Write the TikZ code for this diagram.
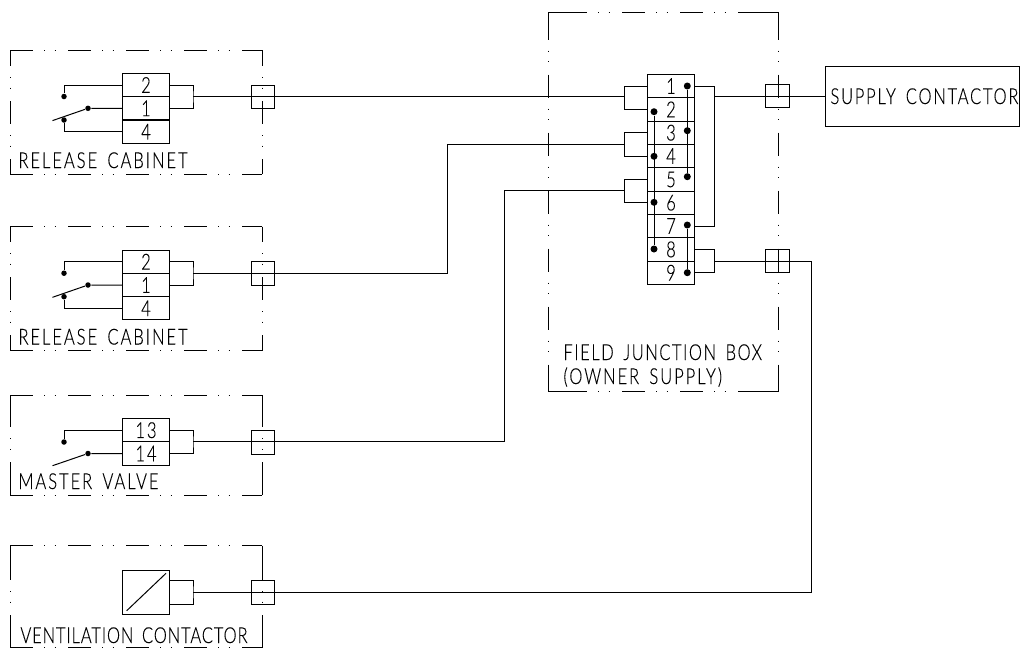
\documentclass[tikz,border=0pt]{standalone}
\usepackage{fontspec}
\newfontfamily\cadfont[FakeStretch=0.75,FakeBold=0.15,LetterSpace=9,WordSpace=1.6]{Lato Light}
\usetikzlibrary{positioning}

\begin{document}
\begin{tikzpicture}[
  x=1pt,
  y=-1pt,
  line width=1pt,
  cell/.style={rectangle, draw, minimum width=46.6pt, minimum height=23.3pt, inner sep=0pt, font=\cadfont\fontsize{22}{22}\selectfont},
  port/.style={rectangle, draw, minimum width=23.6pt, minimum height=23.4pt, inner sep=0pt},
  dot/.style={circle, fill, inner sep=0pt, minimum size=5.5pt},
  bigdot/.style={circle, fill, inner sep=0pt, minimum size=7pt},
  label/.style={anchor=base west, inner sep=0pt, font=\cadfont\fontsize{22}{22}\selectfont},
  cut/.style={dash pattern=on 23pt off 11pt on .4pt off 10.3pt on .4pt off 12.9pt},
]
\useasboundingbox (0,0) rectangle (1023,649);

% Cabinet outlines
\foreach \t/\b/\p in {50/174/7,226.7/350.7/7.7,395/495/48.7,545.7/647.7/46.7} {
  \draw[cut] (10,\t) -- (262,\t);
  \draw[cut] (10,\b) -- (262,\b);
  \foreach \x in {10,262} {
    \draw[cut, dash phase=\p pt] (\x,\t) -- (\x,\b);
    \draw (\x,\t) -- ++(0,12);
    \draw (\x,\b) -- ++(0,-12);
  }
}

% Field box outline
\draw[cut, dash phase=42pt] (548,12.3) -- (778,12.3);
\draw[cut, dash phase=42pt] (548,391.7) -- (778,391.7);
\draw[cut, dash phase=53.6pt] (548,12.3) -- (548,391.7);
\draw[cut, dash phase=53.6pt] (778,12.3) -- (778,391.7);
\draw (548,17) -- (548,12.3) -- (564,12.3);
\draw (761,12.3) -- (778,12.3) -- (778,17);
\draw (548,387) -- (548,391.7) -- (564,391.7);
\draw (761,391.7) -- (778,391.7) -- (778,387);

% Terminal strips
\node[cell] (a1) at (146,85) {2};
\node[cell] (a2) at (146,108.3) {1};
\node[cell] (a3) at (146,131.7) {4};
\node[cell] (b1) at (146,261.7) {2};
\node[cell] (b2) at (146,285) {1};
\node[cell] (b3) at (146,308.3) {4};
\node[cell] (c1) at (146,430.2) {13};
\node[cell] (c2) at (146,453.5) {14};
\node[rectangle, draw, minimum width=46.6pt, minimum height=44.4pt, inner sep=0pt] (e1) at (146,592.2) {};

\node[cell] (j1) at (671,86) {1};
\node[cell] (j2) at (671,109.4) {2};
\node[cell] (j3) at (671,132.7) {3};
\node[cell] (j4) at (671,156) {4};
\node[cell] (j5) at (671,179.4) {5};
\node[cell] (j6) at (671,202.7) {6};
\node[cell] (j7) at (671,226) {7};
\node[cell] (j8) at (671,249.4) {8};
\node[cell] (j9) at (671,272.7) {9};

% Ports on the box edge
\node[port] (pa) at (262.8,96.7) {};
\node[port] (pb) at (262.8,273.3) {};
\node[port] (pc) at (262.8,442.3) {};
\node[port] (pe) at (262.8,592.3) {};
\node[port] (pk) at (777.5,96.2) {};
\node[port] (pl) at (777.5,261) {};

\node[rectangle, draw, minimum width=194pt, minimum height=59.5pt, inner sep=0pt] (supply) at (922,96.3) {};

% Labels
\node[label] (la) at (18,168) {RELEASE CABINET};
\node[label] (lb) at (18,344.5) {RELEASE CABINET};
\node[label] (lc) at (18,489) {MASTER VALVE};
\node[label] (le) at (20,643) {\addfontfeature{LetterSpace=4}VENTILATION CONTACTOR};
\node[label] (lf) at (563,360) {\addfontfeature{LetterSpace=7}FIELD JUNCTION BOX};
\node[label] (lo) at (563,384) {(OWNER SUPPLY)};
\node[label] (lk) at (830,104) {\addfontfeature{LetterSpace=8}SUPPLY CONTACTOR};

% Switch contacts
\foreach \s/\y in {a/85,b/261.7} {
  \pgfmathsetmacro{\yy}{\y+11.5}
  \node[dot] (\s t) at (64,\yy) {};
  \pgfmathsetmacro{\yy}{\y+23.3}
  \node[dot] (\s m) at (88,\yy) {};
  \pgfmathsetmacro{\yy}{\y+35}
  \node[dot] (\s l) at (64,\yy) {};
  \pgfmathsetmacro{\yy}{\y+35.6}
  \coordinate (\s x) at (52.5,\yy);
  \draw (\s1.west) -| (\s t);
  \draw (\s2.west) -- (\s m) -- (\s x);
  \draw (\s3.west) -| (\s l);
}
\node[dot] (ct) at (64,442) {};
\node[dot] (cm) at (88,453.5) {};
\coordinate (cx) at (52.5,465.7);
\draw (c1.west) -| (ct);
\draw (c2.west) -- (cm) -- (cx);

% Contactor coil
\coordinate (e2) at (126.7,610.7);
\coordinate (e3) at (166,573.3);
\draw (e2) -- (e3);

% Brackets
\coordinate (fa) at (193,96.7);
\coordinate (fb) at (193,273.3);
\coordinate (fc) at (193,441.9);
\coordinate (fe) at (193,592.3);
\coordinate (ea) at (169.3,580.7);
\coordinate (eb) at (169.3,604);
\draw (a1.east) -| (fa) |- (a2.east);
\draw (b1.east) -| (fb) |- (b2.east);
\draw (c1.east) -| (fc) |- (c2.east);
\draw (ea) -| (fe) |- (eb);

\coordinate (g1) at (624.3,96.7);
\coordinate (g2) at (624.3,144.7);
\coordinate (g3) at (624.3,190.7);
\draw (j1.west) -| (g1) |- (j2.west);
\draw (j3.west) -| (g2) |- (j4.west);
\draw (j5.west) -| (g3) |- (j6.west);

\coordinate (h1) at (714.3,96.3);
\coordinate (h2) at (714.3,261);
\draw (j1.east) -| (h1) |- (j7.east);
\draw (j8.east) -| (h2) |- (j9.east);

% Field wiring
\coordinate (r1) at (447,273.3);
\coordinate (r2) at (504,441.9);
\coordinate (r3) at (811.5,592.3);
\draw (fa) -- (g1);
\draw (fb) -- (r1) |- (g2);
\draw (fc) -- (r2) |- (g3);
\draw (fe) -- (r3) |- (h2);
\draw (h1) -- (supply);

% Jumpers inside the junction strip
\node[bigdot] (d2) at (654,111.7) {};
\node[bigdot] (d4) at (654,156.3) {};
\node[bigdot] (d6) at (654,202.3) {};
\node[bigdot] (d8) at (654,249) {};
\node[bigdot] (d1) at (687.3,86) {};
\node[bigdot] (d3) at (687.3,130.7) {};
\node[bigdot] (d5) at (687.3,176.7) {};
\node[bigdot] (d7) at (687.3,225) {};
\node[bigdot] (d9) at (687.3,272.7) {};
\draw (d2) -- (d8);
\draw (d1) -- (d5);
\draw (d7) -- (d9);
\end{tikzpicture}
\end{document}
